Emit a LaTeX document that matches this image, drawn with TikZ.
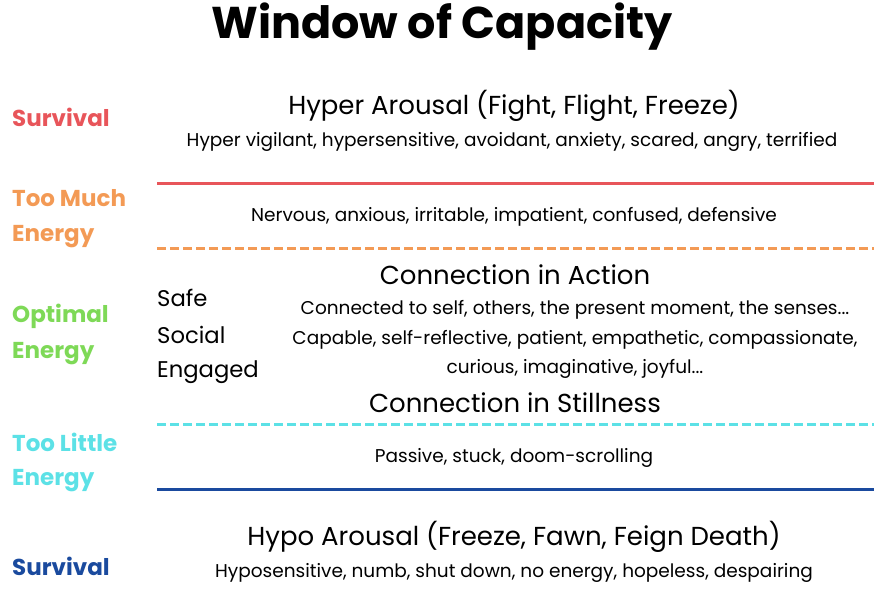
\documentclass[tikz,border=0pt]{standalone}
\usepackage{fontspec}
\setmainfont{Poppins}
\definecolor{cred}{HTML}{E8555A}
\definecolor{corange}{HTML}{F39A55}
\definecolor{cgreen}{HTML}{7ED957}
\definecolor{ccyan}{HTML}{5CE1E6}
\definecolor{cblue}{HTML}{1A4A9E}
\begin{document}
\begin{tikzpicture}[x=1pt,y=-1pt,
  lab/.style={anchor=west,font=\fontsize{23}{26}\selectfont\bfseries,inner sep=0},
  head/.style={font=\fontsize{26}{30}\selectfont,inner sep=0},
  body/.style={font=\fontsize{18.5}{21}\selectfont,inner sep=0},
  safe/.style={anchor=west,font=\fontsize{22.7}{26}\selectfont,inner sep=0}]
\useasboundingbox (0,0) rectangle (878,595);
\node[font=\fontsize{44.5}{50}\selectfont\bfseries,inner sep=0] (t) at (442,27) {Window of Capacity};
\node[lab,text=cred] (s1) at (12,117) {Survival};
\node[lab,text=corange] (m1) at (12,198) {Too Much};
\node[lab,text=corange] (m2) at (12,237) {Energy};
\node[lab,text=cgreen] (o1) at (12,316) {Optimal};
\node[lab,text=cgreen] (o2) at (12,354) {Energy};
\node[lab,text=ccyan] (l1) at (12,442) {Too Little};
\node[lab,text=ccyan] (l2) at (12,481) {Energy};
\node[lab,text=cblue] (s2) at (12,566) {Survival};
\coordinate (a1) at (157,183); \coordinate (a2) at (874,183);
\coordinate (b1) at (157,248); \coordinate (b2) at (874,248);
\coordinate (c1) at (157,424); \coordinate (c2) at (874,424);
\coordinate (d1) at (157,489); \coordinate (d2) at (874,489);
\draw[cred,line width=3] (a1) -- (a2);
\draw[corange,line width=3,dash pattern=on 9 off 4] (b1) -- (b2);
\draw[ccyan,line width=3,dash pattern=on 9 off 4] (c1) -- (c2);
\draw[cblue,line width=3] (d1) -- (d2);
\node[head] (h1) at (514,106) {Hyper Arousal (Fight, Flight, Freeze)};
\node[body] (h2) at (512,142) {Hyper vigilant, hypersensitive, avoidant, anxiety, scared, angry, terrified};
\node[body] (n1) at (514,217) {Nervous, anxious, irritable, impatient, confused, defensive};
\node[head] (ca) at (515,275) {Connection in Action};
\node[body] (c1t) at (575,310) {Connected to self, others, the present moment, the senses...};
\node[body] (c2t) at (575,340) {Capable, self-reflective, patient, empathetic, compassionate,};
\node[body] (c3t) at (575,369) {curious, imaginative, joyful...};
\node[safe] (sa) at (157,298) {Safe};
\node[safe] (so) at (157,335) {Social};
\node[safe] (en) at (157,372) {Engaged};
\node[head] (cs) at (515,403) {Connection in Stillness};
\node[body] (p) at (514,458) {Passive, stuck, doom-scrolling};
\node[head] (ho) at (514,537) {Hypo Arousal (Freeze, Fawn, Feign Death)};
\node[body] (ho2) at (514,573) {Hyposensitive, numb, shut down, no energy, hopeless, despairing};
\end{tikzpicture}
\end{document}
